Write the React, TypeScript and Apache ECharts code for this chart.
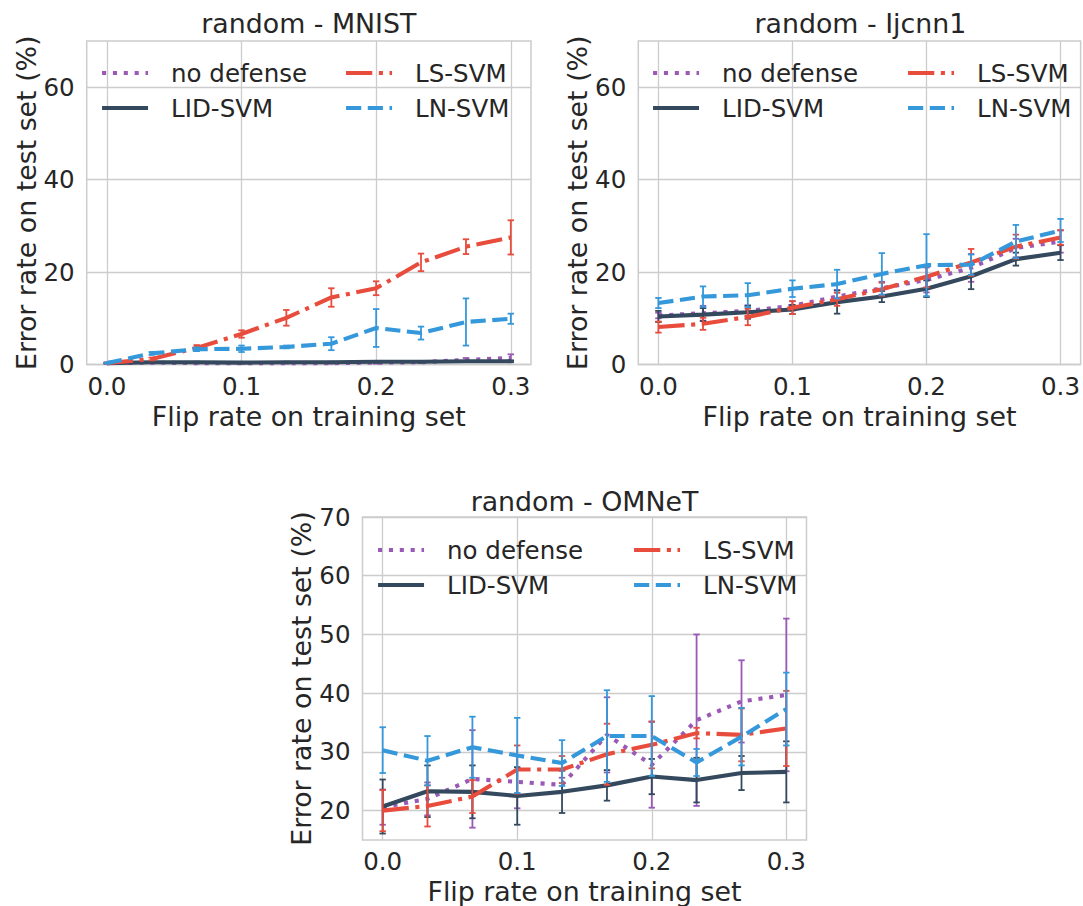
import React, { useEffect, useRef } from 'react';
import * as echarts from 'echarts';

const flipRates = [0, 0.0333, 0.0667, 0.1, 0.1333, 0.1667, 0.2, 0.2333, 0.2667, 0.3];
const xTicks = [0, 0.1, 0.2, 0.3];
const xTickLabels = ['0.0', '0.1', '0.2', '0.3'];
const yTicksTop = [0, 20, 40, 60];
const yTicksBottom = [20, 30, 40, 50, 60, 70];
const methods = ['no defense', 'LID-SVM', 'LS-SVM', 'LN-SVM'];
const titles = ['random - MNIST', 'random - Ijcnn1', 'random - OMNeT'];

// MNIST
const mnistNoDefense = [0.3, 0.4, 0.3, 0.3, 0.3, 0.3, 0.4, 0.5, 1.0, 1.4];
const mnistNoDefenseErr = [0.1, 0.1, 0.1, 0.1, 0.1, 0.1, 0.2, 0.2, 0.4, 0.8];
const mnistLid = [0.3, 0.5, 0.5, 0.4, 0.5, 0.5, 0.6, 0.6, 0.7, 0.7];
const mnistLidErr = [0.1, 0.1, 0.1, 0.1, 0.1, 0.1, 0.1, 0.1, 0.1, 0.2];
const mnistLs = [0.3, 1.2, 3.6, 6.6, 10.1, 14.5, 16.5, 22.1, 25.5, 27.5];
const mnistLsErr = [0.1, 0.3, 0.6, 0.8, 1.7, 2.0, 1.5, 1.9, 1.6, 3.7];
const mnistLn = [0.3, 2.4, 3.3, 3.4, 3.8, 4.5, 7.9, 6.8, 9.2, 9.9];
const mnistLnErr = [0.1, 0.3, 0.4, 0.7, 0.3, 1.4, 4.1, 1.4, 5.1, 1.1];

// Ijcnn1
const ijNoDefense = [10.6, 11.1, 11.6, 12.7, 14.7, 16.5, 18.3, 20.9, 25.2, 26.6];
const ijNoDefenseErr = [0.6, 1.6, 1.2, 1.0, 1.4, 1.4, 2.7, 3.0, 2.0, 2.4];
const ijLid = [10.4, 10.8, 11.3, 11.9, 13.5, 14.7, 16.4, 19.1, 22.8, 24.2];
const ijLidErr = [1.2, 1.4, 1.4, 1.0, 2.5, 1.2, 1.8, 2.8, 1.4, 1.6];
const ijLs = [8.1, 8.8, 10.3, 12.3, 14.1, 16.3, 19.0, 22.1, 25.5, 27.5];
const ijLsErr = [1.2, 1.3, 1.8, 1.4, 1.4, 1.4, 2.3, 2.9, 2.6, 1.6];
const ijLn = [13.3, 14.7, 15.0, 16.4, 17.4, 19.6, 21.5, 21.6, 26.6, 29.0];
const ijLnErr = [1.1, 2.2, 2.6, 1.8, 3.1, 4.5, 6.7, 2.2, 3.6, 2.5];

// OMNeT
const omNoDefense = [20.6, 22.0, 25.4, 24.9, 24.4, 32.9, 27.8, 35.4, 38.6, 39.7];
const omNoDefenseErr = [3.0, 2.8, 8.3, 4.5, 1.2, 6.4, 7.3, 14.6, 7.0, 13.0];
const omLid = [20.7, 23.3, 23.2, 22.5, 23.2, 24.3, 25.8, 25.2, 26.4, 26.6];
const omLidErr = [4.6, 4.4, 4.5, 4.9, 3.6, 2.6, 3.0, 3.8, 2.9, 5.2];
const omLs = [20.0, 20.8, 22.4, 27.0, 27.0, 29.6, 31.2, 33.2, 32.9, 34.0];
const omLsErr = [3.5, 3.5, 2.8, 4.1, 2.3, 5.2, 4.0, 0.9, 4.5, 6.4];
const omLn = [30.3, 28.5, 30.8, 29.4, 28.1, 32.7, 32.7, 28.2, 32.6, 37.3];
const omLnErr = [3.9, 4.2, 5.2, 6.4, 3.9, 7.8, 6.8, 2.3, 4.9, 6.2];

const COLORS = ['#9b59b6', '#34495e', '#e74c3c', '#3498db'];
const LW = 4.1;
const DASHES: any[] = [
  [LW, 1.65 * LW],
  'solid',
  [6.4 * LW, 1.6 * LW, LW, 1.6 * LW],
  [3.7 * LW, 1.6 * LW],
];
const TEXT = '#262626';
const GRIDC = '#cccccc';
const FONT = 'DejaVu Sans';
const TICK_FS = 24.5;
const LABEL_FS = 26.8;

const panels = [
  { means: [mnistNoDefense, mnistLid, mnistLs, mnistLn], errs: [mnistNoDefenseErr, mnistLidErr, mnistLsErr, mnistLnErr] },
  { means: [ijNoDefense, ijLid, ijLs, ijLn], errs: [ijNoDefenseErr, ijLidErr, ijLsErr, ijLnErr] },
  { means: [omNoDefense, omLid, omLs, omLn], errs: [omNoDefenseErr, omLidErr, omLsErr, omLnErr] },
];

const layout = [
  { left: 86.7, top: 41, width: 444.3, height: 323.5, ymin: 0, ymax: 70, yticks: yTicksTop, lg: [100, 344], lgTop: 73, titleY: 23 },
  { left: 638.3, top: 41, width: 444.2, height: 323.5, ymin: 0, ymax: 70, yticks: yTicksTop, lg: [651, 906], lgTop: 73, titleY: 23 },
  { left: 362.5, top: 517, width: 444, height: 324.5, ymin: 15, ymax: 70, yticks: yTicksBottom, lg: [376, 632], lgTop: 550, titleY: 501 },
];

export default function App() {
  const ref = useRef<HTMLDivElement>(null);
  useEffect(() => {
    if (!ref.current) return;
    const chart = echarts.init(ref.current, null, { renderer: 'svg' });
    const grid: any[] = [];
    const xAxis: any[] = [];
    const yAxis: any[] = [];
    const series: any[] = [];
    const legend: any[] = [];
    const graphic: any[] = [];

    layout.forEach((L, p) => {
      grid.push({
        left: L.left, top: L.top, width: L.width, height: L.height,
        show: true, borderColor: GRIDC, borderWidth: 1.5, backgroundColor: '#fff',
      });
      xAxis.push({
        type: 'value', gridIndex: p, min: -0.015, max: 0.315,
        axisLine: { show: false },
        axisTick: { show: false, customValues: xTicks },
        axisLabel: {
          customValues: xTicks,
          formatter: (v: number) => xTickLabels[xTicks.findIndex((t) => Math.abs(t - v) < 1e-6)] ?? '',
          fontSize: TICK_FS, color: TEXT, fontFamily: FONT, margin: 9,
        },
        splitLine: { show: true, lineStyle: { color: GRIDC, width: 1.3 } },
        name: 'Flip rate on training set', nameLocation: 'middle', nameGap: 38,
        nameTextStyle: { fontSize: LABEL_FS, color: TEXT, fontFamily: FONT },
      });
      yAxis.push({
        type: 'value', gridIndex: p, min: L.ymin, max: L.ymax,
        axisLine: { show: false },
        axisTick: { show: false, customValues: L.yticks },
        axisLabel: { customValues: L.yticks, fontSize: TICK_FS, color: TEXT, fontFamily: FONT, margin: 12 },
        splitLine: { show: true, lineStyle: { color: GRIDC, width: 1.3 } },
        name: 'Error rate on test set (%)', nameLocation: 'middle', nameGap: 46,
        nameTextStyle: { fontSize: LABEL_FS, color: TEXT, fontFamily: FONT },
      });
      const P = panels[p];
      methods.forEach((m, k) => {
        series.push({
          type: 'line', name: m, xAxisIndex: p, yAxisIndex: p,
          data: flipRates.map((x, i) => [x, P.means[k][i]]),
          symbol: 'none', smooth: false, z: 3 + k,
          lineStyle: { color: COLORS[k], width: LW, type: DASHES[k], cap: 'butt' },
          itemStyle: { color: COLORS[k] },
          emphasis: { disabled: true },
        });
        series.push({
          type: 'custom', name: 'err-' + p + '-' + k, xAxisIndex: p, yAxisIndex: p, z: 3 + k,
          data: flipRates.map((x, i) => [x, P.means[k][i] - P.errs[k][i], P.means[k][i] + P.errs[k][i]]),
          encode: { x: 0, y: [1, 2] },
          renderItem: (params: any, api: any) => {
            const x = api.value(0);
            const lo = api.coord([x, api.value(1)]);
            const hi = api.coord([x, api.value(2)]);
            const cap = 3.2;
            const style = { stroke: COLORS[k], lineWidth: 1.8 };
            return {
              type: 'group',
              children: [
                { type: 'line', shape: { x1: lo[0], y1: lo[1], x2: hi[0], y2: hi[1] }, style },
                { type: 'line', shape: { x1: hi[0] - cap, y1: hi[1], x2: hi[0] + cap, y2: hi[1] }, style },
                { type: 'line', shape: { x1: lo[0] - cap, y1: lo[1], x2: lo[0] + cap, y2: lo[1] }, style },
              ],
            };
          },
        });
      });
      const cols = [[methods[0], methods[1]], [methods[2], methods[3]]];
      cols.forEach((names, c) => {
        legend.push({
          data: names, orient: 'vertical', left: L.lg[c], top: L.lgTop - 14, padding: 0,
          itemWidth: 46, itemHeight: 14, itemGap: 7, selectedMode: false,
          itemStyle: { color: 'transparent', borderColor: 'transparent', borderWidth: 0, opacity: 0 },
          lineStyle: { width: LW, cap: 'butt' },
          textStyle: { fontSize: TICK_FS, color: TEXT, fontFamily: FONT, lineHeight: 28, padding: [0, 0, 0, 18] },
        });
      });
      graphic.push({
        type: 'text', x: L.left + L.width / 2, y: L.titleY,
        style: { text: titles[p], fontSize: LABEL_FS, fill: TEXT, fontFamily: FONT, textAlign: 'center', textVerticalAlign: 'middle' },
      });
    });

    chart.setOption({
      animation: false,
      backgroundColor: '#ffffff',
      textStyle: { fontFamily: FONT },
      grid, xAxis, yAxis, series, legend, graphic,
    });
    return () => chart.dispose();
  }, []);
  return <div ref={ref} style={{ position: 'fixed', left: 0, top: 0, width: 1083, height: 906 }} />;
}
